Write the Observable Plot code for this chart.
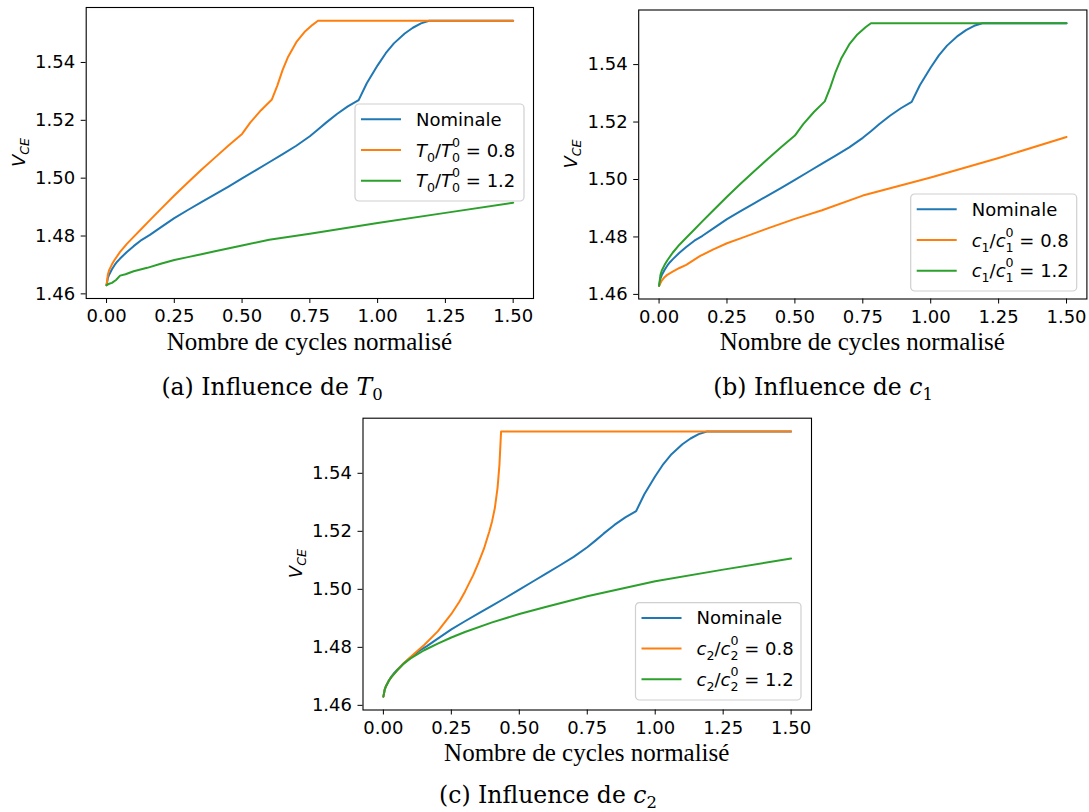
<!DOCTYPE html>
<html><head><meta charset="utf-8">
<script src="https://cdn.jsdelivr.net/npm/d3@7"></script>
<script src="https://cdn.jsdelivr.net/npm/@observablehq/plot@0.6"></script>
<style>
html,body{margin:0;padding:0;background:#fff;}
#root{position:relative;width:1089px;height:812px;overflow:hidden;background:#fff;}
.panel{position:absolute;}
.panel svg{max-width:none !important;display:block;}
</style></head><body><div id="root"></div>
<script>
// ---- ticks ----
const xTicks = [0, 0.25, 0.5, 0.75, 1.0, 1.25, 1.5];
const yTicks = [1.46, 1.48, 1.50, 1.52, 1.54];

// ---- Nominal (same in all panels) ----
const nominalX = [0, 0.005, 0.01, 0.02, 0.03, 0.04, 0.05, 0.075, 0.1, 0.13, 0.16, 0.2, 0.25, 0.3, 0.35, 0.4, 0.45, 0.5, 0.55, 0.6, 0.65, 0.7, 0.75, 0.78, 0.81, 0.85, 0.89, 0.93, 0.96, 1.0, 1.03, 1.06, 1.1, 1.13, 1.16, 1.19, 1.5];
const nominalY = [1.463, 1.4655, 1.4667, 1.4685, 1.4700, 1.4712, 1.4722, 1.4745, 1.4765, 1.4787, 1.4804, 1.4830, 1.4862, 1.4890, 1.4917, 1.4944, 1.4971, 1.4999, 1.5027, 1.5055, 1.5083, 1.5112, 1.5145, 1.5168, 1.5192, 1.5222, 1.5248, 1.5270, 1.5328, 1.5390, 1.5432, 1.5466, 1.5500, 1.5520, 1.5535, 1.5544, 1.5544];

// ---- (a) T0/T0^0 = 0.8 ----
const t0LowX = [0, 0.005, 0.01, 0.02, 0.03, 0.05, 0.075, 0.1, 0.13, 0.16, 0.2, 0.25, 0.3, 0.35, 0.4, 0.45, 0.5, 0.53, 0.57, 0.61, 0.63, 0.65, 0.67, 0.7, 0.73, 0.76, 0.78, 1.5];
const t0LowY = [1.463, 1.4667, 1.4683, 1.4702, 1.4718, 1.4745, 1.4773, 1.4797, 1.4826, 1.4855, 1.4893, 1.4940, 1.4985, 1.5029, 1.5071, 1.5113, 1.5153, 1.5192, 1.5235, 1.5272, 1.5320, 1.5375, 1.5420, 1.5470, 1.5505, 1.5530, 1.5544, 1.5544];
// ---- (a) T0/T0^0 = 1.2 ----
const t0HighX = [0, 0.01, 0.02, 0.035, 0.05, 0.07, 0.1, 0.15, 0.2, 0.25, 0.3, 0.35, 0.4, 0.5, 0.6, 0.75, 1.0, 1.25, 1.5];
const t0HighY = [1.463, 1.4635, 1.4638, 1.4648, 1.4663, 1.4668, 1.4678, 1.4690, 1.4704, 1.4717, 1.4727, 1.4737, 1.4747, 1.4767, 1.4787, 1.4808, 1.4845, 1.4880, 1.4915];

// ---- (b) c1/c1^0 = 0.8 ----
const c1LowX = [0, 0.01, 0.02, 0.03, 0.05, 0.075, 0.1, 0.15, 0.2, 0.25, 0.3, 0.4, 0.5, 0.6, 0.75, 1.0, 1.25, 1.5];
const c1LowY = [1.463, 1.4648, 1.4660, 1.4668, 1.4679, 1.4692, 1.4703, 1.4733, 1.4757, 1.4778, 1.4795, 1.4830, 1.4863, 1.4893, 1.4944, 1.5007, 1.5075, 1.5148];
// ---- (b) c1/c1^0 = 1.2 ----
const c1HighX = [0, 0.005, 0.01, 0.02, 0.03, 0.05, 0.075, 0.1, 0.13, 0.16, 0.2, 0.25, 0.3, 0.35, 0.4, 0.45, 0.5, 0.53, 0.57, 0.61, 0.63, 0.65, 0.67, 0.7, 0.73, 0.76, 0.78, 1.5];
const c1HighY = [1.463, 1.4667, 1.4683, 1.4702, 1.4718, 1.4745, 1.4773, 1.4797, 1.4826, 1.4855, 1.4893, 1.4940, 1.4985, 1.5029, 1.5071, 1.5113, 1.5153, 1.5192, 1.5235, 1.5272, 1.5320, 1.5375, 1.5420, 1.5470, 1.5505, 1.5530, 1.5544, 1.5544];

// ---- (c) c2/c2^0 = 0.8 ----
const c2LowX = [0, 0.005, 0.01, 0.02, 0.03, 0.05, 0.075, 0.1, 0.13, 0.15, 0.2, 0.25, 0.28, 0.3, 0.33, 0.35, 0.37, 0.39, 0.4, 0.41, 0.42, 0.427, 0.433, 1.5];
const c2LowY = [1.463, 1.4655, 1.4667, 1.4685, 1.4698, 1.4720, 1.4745, 1.4767, 1.4792, 1.4808, 1.4855, 1.4915, 1.4958, 1.4992, 1.5048, 1.5092, 1.5140, 1.5200, 1.5235, 1.5280, 1.5350, 1.5430, 1.5544, 1.5544];
// ---- (c) c2/c2^0 = 1.2 ----
const c2HighX = [0, 0.005, 0.01, 0.02, 0.03, 0.05, 0.075, 0.1, 0.15, 0.2, 0.25, 0.3, 0.4, 0.5, 0.6, 0.75, 1.0, 1.25, 1.5];
const c2HighY = [1.463, 1.4655, 1.4667, 1.4685, 1.4698, 1.4720, 1.4744, 1.4762, 1.4790, 1.4813, 1.4834, 1.4853, 1.4886, 1.4915, 1.4940, 1.4976, 1.5028, 1.5068, 1.5106];

const BLUE = "#1f77b4", ORANGE = "#ff7f0e", GREEN = "#2ca02c";

// legend / caption text segments
const lblNominal = [{t: "Nominale"}];
const lblT08 = [{t:"T",it:1},{t:"0",sub:1},{t:"/"},{t:"T",it:1},{t:"0",sub:1},{t:"0",sup:1},{t:" = 0.8"}];
const lblT12 = [{t:"T",it:1},{t:"0",sub:1},{t:"/"},{t:"T",it:1},{t:"0",sub:1},{t:"0",sup:1},{t:" = 1.2"}];
const lblC108 = [{t:"c",it:1},{t:"1",sub:1},{t:"/"},{t:"c",it:1},{t:"1",sub:1},{t:"0",sup:1},{t:" = 0.8"}];
const lblC112 = [{t:"c",it:1},{t:"1",sub:1},{t:"/"},{t:"c",it:1},{t:"1",sub:1},{t:"0",sup:1},{t:" = 1.2"}];
const lblC208 = [{t:"c",it:1},{t:"2",sub:1},{t:"/"},{t:"c",it:1},{t:"2",sub:1},{t:"0",sup:1},{t:" = 0.8"}];
const lblC212 = [{t:"c",it:1},{t:"2",sub:1},{t:"/"},{t:"c",it:1},{t:"2",sub:1},{t:"0",sup:1},{t:" = 1.2"}];
const capA = [{t:"(a) Influence de "},{t:"T",it:1},{t:"0",sub:1}];
const capB = [{t:"(b) Influence de "},{t:"c",it:1},{t:"1",sub:1}];
const capC = [{t:"(c) Influence de "},{t:"c",it:1},{t:"2",sub:1}];
const xLabel = "Nombre de cycles normalisé";

function rich(textSel, segs, fs, subShift, supShift, subW) {
  let cur = 0;
  segs.forEach(s => {
    const ts = textSel.append("tspan").text(s.t);
    if (s.it) ts.attr("font-style", "italic");
    let target = 0;
    if (s.sub) { ts.attr("font-size", fs * 0.7); target = subShift; }
    if (s.sup) { ts.attr("font-size", fs * 0.7); target = -supShift; ts.attr("dx", -subW); }
    if (target !== cur) { ts.attr("dy", target - cur); cur = target; }
  });
}

function makePanel(p) {
  const [fl, fr, ft, fb] = p.frame;
  const ml = fl - p.svgX, mr = p.svgX + p.W - fr, mt = ft - p.svgY, mb = p.svgY + p.H - fb;
  const lines = p.series.map(s => Plot.line(s.x.map((x, i) => ({x, y: s.y[i]})), {x: "x", y: "y", stroke: s.color, strokeWidth: 2}));
  const svg = Plot.plot({
    width: p.W, height: p.H,
    marginLeft: ml, marginRight: mr, marginTop: mt, marginBottom: mb,
    x: {domain: [-0.075, 1.575]},
    y: {domain: [1.4584, 1.5590]},
    style: {fontFamily: "DejaVu Sans", fontSize: "18px", color: "black", background: "transparent", overflow: "visible"},
    marks: [
      Plot.axisX({ticks: xTicks, tickFormat: d3.format(".2f"), tickSize: 5, tickPadding: 6, label: null}),
      Plot.axisY({ticks: yTicks, tickFormat: d3.format(".2f"), tickSize: 5, tickPadding: 6, label: null}),
      ...lines,
      Plot.frame({stroke: "black", strokeWidth: 1.1})
    ]
  });
  const div = document.createElement("div");
  div.className = "panel";
  div.style.left = p.svgX + "px"; div.style.top = p.svgY + "px"; div.style.width = p.W + "px";
  div.appendChild(svg);
  document.getElementById("root").appendChild(div);
  const g = d3.select(svg).append("g");
  const ox = p.svgX, oy = p.svgY;
  // y label V_CE
  const yl = g.append("text")
    .attr("transform", `translate(${fl - 61 - ox},${(ft + fb) / 2 - oy}) rotate(-90)`)
    .attr("text-anchor", "middle").attr("font-family", "DejaVu Sans").attr("font-size", 18).attr("fill", "black");
  rich(yl, [{t:"V",it:1},{t:"CE",it:1,sub:1}], 18, 4, 0, 0);
  // x label
  g.append("text").attr("x", (fl + fr) / 2 - ox).attr("y", fb + 51.5 - oy)
    .attr("text-anchor", "middle").attr("font-family", "Liberation Serif").attr("font-size", 25).attr("fill", "black")
    .text(xLabel);
  // caption
  const cap = g.append("text").attr("x", p.capX - ox).attr("y", fb + p.capDy - oy)
    .attr("text-anchor", "middle").attr("font-family", "DejaVu Serif").attr("font-size", 23.5).attr("fill", "black");
  rich(cap, p.caption, 23.5, 5, 0, 0);
  // legend
  const [lx0, ly0, lx1, ly1] = p.legend;
  const lg = g.append("g").attr("transform", `translate(${lx0 - ox},${ly0 - oy})`);
  lg.append("rect").attr("x", 0).attr("y", 0).attr("width", lx1 - lx0).attr("height", ly1 - ly0)
    .attr("rx", 4).attr("fill", "white").attr("fill-opacity", 0.8).attr("stroke", "#d0d0d0").attr("stroke-width", 1.2);
  p.series.forEach((s, i) => {
    const yy = 15.3 + i * 30.7;
    lg.append("line").attr("x1", 6).attr("x2", 46).attr("y1", yy).attr("y2", yy).attr("stroke", s.color).attr("stroke-width", 2);
    const t = lg.append("text").attr("x", 61).attr("y", yy + 6.6).attr("text-anchor", "start")
      .attr("font-family", "DejaVu Sans").attr("font-size", 18)
      .attr("fill", "black").style("white-space", "pre");
    rich(t, s.label, 18, 5, 10, 8.0);
  });
}

makePanel({svgX: 0, svgY: 0, W: 548, H: 402, frame: [85.7, 533, 7, 298], capX: 272, capDy: 96.5,
  caption: capA, legend: [355, 104, 524, 201],
  series: [{x: nominalX, y: nominalY, color: BLUE, label: lblNominal},
           {x: t0LowX, y: t0LowY, color: ORANGE, label: lblT08},
           {x: t0HighX, y: t0HighY, color: GREEN, label: lblT12}]});
makePanel({svgX: 548, svgY: 0, W: 541, H: 402, frame: [638.2, 1086.4, 9.5, 298.5], capX: 823, capDy: 96.5,
  caption: capB, legend: [910.7, 194, 1076.7, 291],
  series: [{x: nominalX, y: nominalY, color: BLUE, label: lblNominal},
           {x: c1LowX, y: c1LowY, color: ORANGE, label: lblC108},
           {x: c1HighX, y: c1HighY, color: GREEN, label: lblC112}]});
makePanel({svgX: 280, svgY: 402, W: 545, H: 410, frame: [362.5, 811, 417.7, 709.5], capX: 548, capDy: 93.5,
  caption: capC, legend: [635.5, 602.6, 801, 700],
  series: [{x: nominalX, y: nominalY, color: BLUE, label: lblNominal},
           {x: c2LowX, y: c2LowY, color: ORANGE, label: lblC208},
           {x: c2HighX, y: c2HighY, color: GREEN, label: lblC212}]});
</script></body></html>
